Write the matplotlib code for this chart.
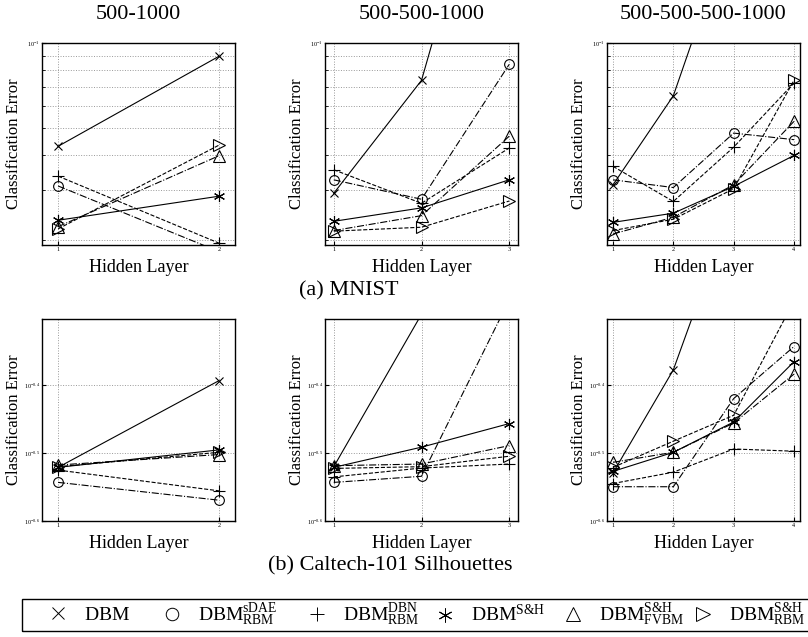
import numpy as np
import matplotlib
matplotlib.use("Agg")
import matplotlib.pyplot as plt
from matplotlib.lines import Line2D
from matplotlib.patches import Rectangle
from matplotlib.ticker import FixedLocator, NullFormatter, NullLocator

plt.rcParams['font.family'] = ['Liberation Serif', 'DejaVu Serif']
plt.rcParams['mathtext.fontset'] = 'custom'
plt.rcParams['mathtext.rm'] = 'Liberation Serif'
plt.rcParams['mathtext.it'] = 'Liberation Serif:italic'
plt.rcParams['mathtext.bf'] = 'Liberation Serif:bold'

# architectures (columns) and hidden layer counts
nets = ['500-1000', '500-500-1000', '500-500-500-1000']
layers = [[1, 2], [1, 2, 3], [1, 2, 3, 4]]

# MNIST classification error, one list per architecture
mnist_dbm = [[0.0430, 0.0897], [0.0293, 0.0737, 0.90], [0.0314, 0.065, 0.27, 0.5]]
mnist_sdae = [[0.0311, 0.0182], [0.0327, 0.0279, 0.0840], [0.0327, 0.0307, 0.0479, 0.0454]]
mnist_dbn = [[0.0337, 0.0195], [0.0355, 0.0270, 0.0424], [0.0365, 0.0274, 0.0427, 0.0721]]
mnist_sh = [[0.0235, 0.0286], [0.0233, 0.0260, 0.0327], [0.0231, 0.0249, 0.0310, 0.0399]]
mnist_fvbm = [[0.0223, 0.0398], [0.0216, 0.0244, 0.0467], [0.0210, 0.0241, 0.0314, 0.0527]]
mnist_rbm = [[0.0219, 0.0434], [0.0215, 0.0222, 0.0275], [0.0216, 0.0237, 0.0304, 0.0737]]

# Caltech-101 Silhouettes classification error
cal_dbm = [[0.3014, 0.4046], [0.3021, 0.507, 0.6], [0.2958, 0.4198, 0.74, 0.8]]
cal_sdae = [[0.2864, 0.2696], [0.2864, 0.2924, 0.532], [0.2822, 0.2822, 0.3807, 0.4543]]
cal_dbn = [[0.2986, 0.2783], [0.2918, 0.3007, 0.3048], [0.2853, 0.2965, 0.3208, 0.3184]]
cal_sh = [[0.3014, 0.3198], [0.3014, 0.3228, 0.3497], [0.2973, 0.3172, 0.3516, 0.4315]]
cal_fvbm = [[0.3038, 0.3148], [0.3031, 0.3048, 0.3245], [0.3066, 0.3172, 0.3504, 0.4137]]
cal_rbm = [[0.3021, 0.3172], [0.3003, 0.3021, 0.313], [0.3014, 0.3294, 0.3597, 0.53]]

labels = [r'$\mathrm{DBM}$',
          r'$\mathrm{DBM}_{\mathrm{RBM}}^{\mathrm{sDAE}}$',
          r'$\mathrm{DBM}_{\mathrm{RBM}}^{\mathrm{DBN}}$',
          r'$\mathrm{DBM}^{\mathrm{S&H}}$',
          r'$\mathrm{DBM}_{\mathrm{FVBM}}^{\mathrm{S&H}}$',
          r'$\mathrm{DBM}_{\mathrm{RBM}}^{\mathrm{S&H}}$']
markers = ['x', 'o', '+', (6, 2, 0), '^', '>']
msizes = [6, 7, 8, 8, 8, 8]
styles = ['-', '-.', '--', '-', '-.', '--']

mnist = [mnist_dbm, mnist_sdae, mnist_dbn, mnist_sh, mnist_fvbm, mnist_rbm]
caltech = [cal_dbm, cal_sdae, cal_dbn, cal_sh, cal_fvbm, cal_rbm]

W, H = 808, 637
fig = plt.figure(figsize=(W / 100, H / 100), dpi=100)

lefts = [42, 325, 607]
aw, ah = 193, 202
tops = [43, 319]


def draw(ax, data, j):
    for k in range(6):
        ax.plot(layers[j], data[k][j], color='k', lw=0.8, ls=styles[k],
                marker=markers[k], ms=msizes[k], mfc='none', mec='k', mew=0.8)
    ax.set_yscale('log')
    ax.set_xlim(0.9, len(layers[j]) + 0.1)
    ax.set_xticks(layers[j])
    ax.tick_params(axis='both', which='both', direction='in', labelsize=4.5,
                   length=3, pad=1.5)
    ax.tick_params(which='minor', length=2)
    for s in ax.spines.values():
        s.set_linewidth(1.0)
    ax.set_ylabel('Classification Error', fontsize=12, va='center')
    ax.yaxis.set_label_coords(-0.145, 0.5)
    ax.set_xlabel('Hidden Layer', fontsize=13, va='center')
    ax.xaxis.set_label_coords(0.5, -0.11)


for j in range(3):
    # MNIST row
    ax = fig.add_axes([lefts[j] / W, 1 - (tops[0] + ah) / H, aw / W, ah / H])
    draw(ax, mnist, j)
    ax.set_ylim(0.0192, 0.1)
    ax.yaxis.set_major_locator(FixedLocator([0.1]))
    ax.set_yticklabels([r'$10^{-1}$'])
    ax.yaxis.set_minor_locator(FixedLocator(np.arange(0.02, 0.1, 0.01)))
    ax.yaxis.set_minor_formatter(NullFormatter())
    ax.grid(True, which='both', ls=':', color='0.6', lw=0.7)
    ax.set_title(nets[j], fontsize=16, y=1 + 28 / ah, va='center', pad=0)

    # Caltech row
    ax = fig.add_axes([lefts[j] / W, 1 - (tops[1] + ah) / H, aw / W, ah / H])
    draw(ax, caltech, j)
    ax.set_ylim(10 ** -0.6, 10 ** -0.302)
    ax.yaxis.set_major_locator(FixedLocator([10 ** -0.6, 10 ** -0.5, 10 ** -0.4]))
    ax.set_yticklabels([r'$10^{-0.6}$', r'$10^{-0.5}$', r'$10^{-0.4}$'])
    ax.yaxis.set_minor_locator(NullLocator())
    ax.grid(True, which='major', ls=':', color='0.6', lw=0.7)

fig.text(349 / W, 1 - 291 / H, '(a) MNIST', ha='center', va='center', fontsize=16)
fig.text(390 / W, 1 - 566 / H, '(b) Caltech-101 Silhouettes', ha='center',
         va='center', fontsize=16)

# legend: one entry per slot, inside a shared frame
marker_x = [55, 169, 314, 442, 570, 700]
fs = 14
hl = 1.0
for k in range(6):
    h = Line2D([], [], ls='none', marker=markers[k], ms=msizes[k] + 2,
               mfc='none', mec='k', mew=0.7, color='k')
    x0 = marker_x[k] - hl * fs / 2
    fig.legend([h], [labels[k]], loc='center left',
               bbox_to_anchor=(x0 / W, 1 - 615 / H), frameon=False,
               fontsize=fs, handlelength=hl, handletextpad=0.85,
               borderpad=0, borderaxespad=0)

fig.add_artist(Rectangle((22 / W, 1 - 631 / H), 820 / W, 32 / H,
                         transform=fig.transFigure, fill=False,
                         edgecolor='k', lw=1.0, clip_on=False))

fig.savefig('out.png', dpi=100)
